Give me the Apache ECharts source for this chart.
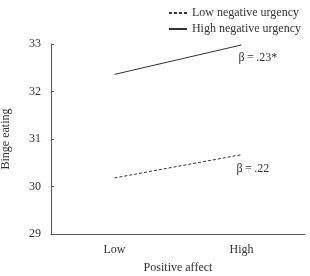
<!DOCTYPE html>
<html lang="en">
<head>
<meta charset="UTF-8">
<title>Binge eating</title>
<script src="https://cdn.jsdelivr.net/npm/echarts@6/dist/echarts.min.js"></script>
<style>
body{margin:0;background:#fff}
#main{width:310px;height:276px}
</style>
</head>
<body>
<div id="main"></div>
<script type="text/javascript">
var categories = ['Low', 'High'];
var lowUrgency = [30.18, 30.67];
var highUrgency = [32.36, 32.98];
var seriesNames = ['Low negative urgency', 'High negative urgency'];
var betaLabels = ['β\u2009=\u2009.22', 'β\u2009=\u2009.23*'];

var font = 'Liberation Serif';
var ink = '#333';

function endLabel(text, offset) {
    return {
        show: true,
        formatter: text,
        distance: 0,
        offset: offset,
        fontFamily: font,
        fontSize: 12,
        color: ink
    };
}

var myChart = echarts.init(document.getElementById('main'));
myChart.setOption({
    animation: false,
    textStyle: {fontFamily: font, color: ink},
    legend: {
        orient: 'vertical',
        right: 4,
        top: 2,
        itemGap: 4,
        itemWidth: 18,
        itemHeight: 12,
        itemStyle: {opacity: 0},
        textStyle: {fontFamily: font, fontSize: 12, color: ink},
        data: seriesNames
    },
    grid: {left: 51, right: 5, top: 44, bottom: 42, outerBoundsMode: 'none', containLabel: false},
    xAxis: {
        type: 'category',
        data: categories,
        boundaryGap: true,
        name: 'Positive affect',
        nameLocation: 'middle',
        nameGap: 28,
        nameTextStyle: {fontFamily: font, fontSize: 12, color: ink},
        axisLine: {lineStyle: {color: '#555'}},
        axisTick: {inside: true, alignWithLabel: true, length: 3, lineStyle: {color: '#555'}},
        axisLabel: {fontFamily: font, fontSize: 12, color: ink, margin: 10}
    },
    yAxis: {
        type: 'value',
        min: 29,
        max: 33,
        interval: 1,
        name: 'Binge eating',
        nameLocation: 'middle',
        nameGap: 39,
        nameTextStyle: {fontFamily: font, fontSize: 12, color: ink},
        axisLine: {show: true, lineStyle: {color: '#555'}},
        axisTick: {show: true, inside: true, length: 3, lineStyle: {color: '#555'}},
        splitLine: {show: false},
        axisLabel: {fontFamily: font, fontSize: 12, color: ink, margin: 10}
    },
    series: [
        {
            name: seriesNames[0],
            type: 'line',
            symbol: 'none',
            lineStyle: {color: ink, width: 1, type: [3, 2]},
            itemStyle: {color: ink},
            endLabel: endLabel(betaLabels[0], [-5, 14]),
            data: lowUrgency
        },
        {
            name: seriesNames[1],
            type: 'line',
            symbol: 'none',
            lineStyle: {color: ink, width: 1},
            itemStyle: {color: ink},
            endLabel: endLabel(betaLabels[1], [-3, 13]),
            data: highUrgency
        }
    ]
});
</script>
</body>
</html>
